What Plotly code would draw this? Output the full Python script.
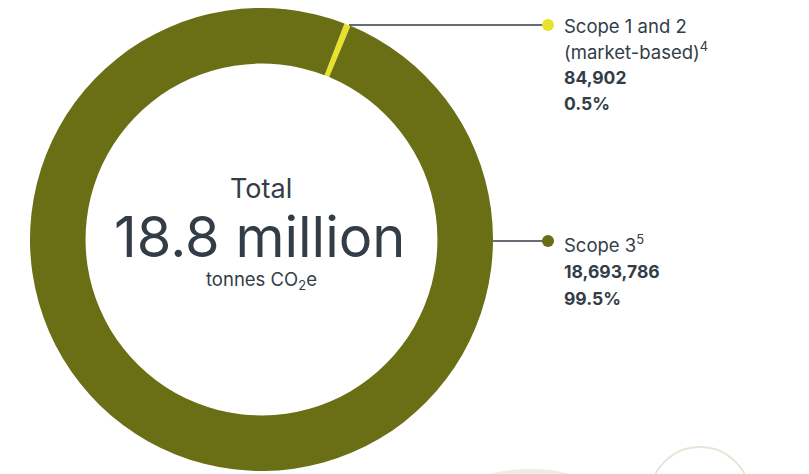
import plotly.graph_objects as go

labels = ["Scope 1 and 2 (market-based)", "Scope 3"]
values = [84902, 18693786]
colors = ["#e9e22b", "#6a6e14"]
pct_labels = ["0.5%", "99.5%"]
value_labels = ["84,902", "18,693,786"]

TEXT = "#333d47"
FONT = "Inter"

W, H = 809, 474
OFF = 8  # page body margin
def px(x): return (x - OFF) / W
def py(y): return 1 - (y - OFF) / H

fig = go.Figure()
fig.add_trace(go.Pie(
    labels=labels, values=values, hole=0.76, sort=False,
    direction="clockwise", rotation=21,
    marker=dict(colors=colors, line=dict(width=0)),
    textinfo="none", hoverinfo="label+value+percent",
    domain=dict(x=[px(30), px(493)], y=[py(471), 1.0]),
    showlegend=False,
))

shapes = [
    # decorative background shapes
    dict(type="circle", xref="paper", yref="paper", x0=px(650), y0=py(447), x1=px(750), y1=py(547),
         fillcolor="rgba(0,0,0,0)", line=dict(color="#e7e5d8", width=2), layer="below"),
    dict(type="circle", xref="paper", yref="paper", x0=px(440), y0=py(469), x1=px(620), y1=py(560),
         fillcolor="#eeede3", line=dict(width=0), layer="below"),
    # leader lines
    dict(type="line", xref="paper", yref="paper", x0=px(349), y0=py(25), x1=px(548), y1=py(25),
         line=dict(color=TEXT, width=1.5)),
    dict(type="line", xref="paper", yref="paper", x0=px(493), y0=py(241), x1=px(548), y1=py(241),
         line=dict(color=TEXT, width=1.5)),
    # dots
    dict(type="circle", xref="paper", yref="paper", x0=px(542), y0=py(19), x1=px(554), y1=py(31),
         fillcolor=colors[0], line=dict(width=0)),
    dict(type="circle", xref="paper", yref="paper", x0=px(542), y0=py(235), x1=px(554), y1=py(247),
         fillcolor=colors[1], line=dict(width=0)),
]

ann = []
def add(text, x, y, size, bold=False, xanchor="left"):
    ann.append(dict(text=f"<b>{text}</b>" if bold else text, x=px(x), y=py(y), xref="paper", yref="paper",
                    xanchor=xanchor, yanchor="middle", showarrow=False,
                    font=dict(family=FONT, size=size, color=TEXT)))

add("Scope 1 and 2", 562, 26, 18.5)
add("(market-based)<sup>4</sup>", 562, 50, 18.5)
add(value_labels[0], 562, 78, 17.5, bold=True)
add(pct_labels[0], 562, 104, 17.5, bold=True)

add("Scope 3<sup>5</sup>", 562, 243, 18.5)
add(value_labels[1], 562, 271, 17.5, bold=True)
add(pct_labels[1], 562, 298, 17.5, bold=True)

add("Total", 261, 188, 27, xanchor="center")
add("18.8 million", 259, 237, 56, xanchor="center")
add("tonnes CO<sub>2</sub>e", 261, 280, 18.5, xanchor="center")

fig.update_layout(
    width=W, height=H, margin=dict(l=0, r=0, t=0, b=0),
    paper_bgcolor="white", plot_bgcolor="white",
    shapes=shapes, annotations=ann,
)
fig.write_html("out.html")
